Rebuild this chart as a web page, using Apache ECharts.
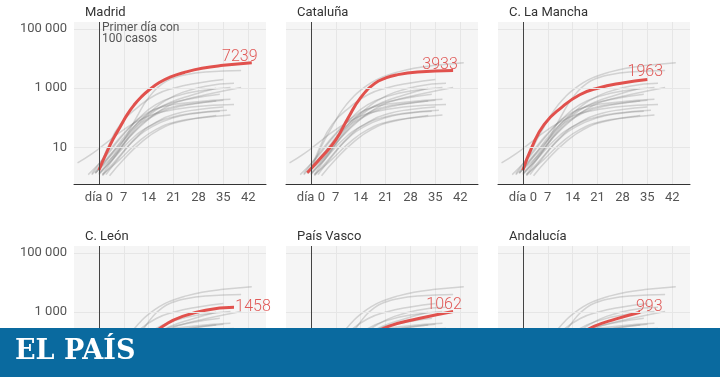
<!DOCTYPE html>
<html>
<head>
<meta charset="utf-8">
<script src="https://cdn.jsdelivr.net/npm/echarts@6/dist/echarts.min.js"></script>
<style>
html,body{margin:0;padding:0;background:#fff}
#chart{width:720px;height:377px}
</style>
</head>
<body>
<div id="chart"></div>
<script>
// días desde el primer día con 100 casos -> fallecidos acumulados
var madrid      = [[0,1.7],[2,6],[4,19],[6,50],[8,130],[10,280],[12,520],[14,850],[17,1550],[20,2350],[24,3400],[29,4700],[35,5900],[43,7239]];
var cataluna    = [[-1,1.4],[3,4.7],[7,18],[10.5,100],[14,480],[18,1450],[21,2200],[24,2800],[30,3500],[40,3933]];
var clm         = [[0,1.7],[2.5,10],[6,60],[11,230],[16,600],[21,1000],[28,1500],[35,1963]];
var cyl         = [[0,1.3],[4,5],[8,25],[11,70],[15,180],[19,400],[23,680],[30,1170],[38,1458]];
var pvasco      = [[-1,1.4],[4,5],[9,25],[14,90],[18,200],[22,340],[30,600],[40,1062]];
var andalucia   = [[-2,1.2],[2,4],[7,18],[11,60],[16,180],[20,330],[26,580],[33,993]];
var valencia    = [[-3,1.2],[2,5],[6,20],[11,90],[16,280],[22,550],[28,800],[37,1050]];
var aragon      = [[-1,1.3],[3,5],[8,30],[13,110],[18,250],[24,400],[34,620]];
var galicia     = [[0,1.2],[5,6],[10,35],[15,110],[20,200],[27,300],[35,390]];
var navarra     = [[-2,1.3],[3,8],[8,40],[13,130],[19,250],[27,340],[37,420]];
var rioja       = [[-6,3],[-2,6],[2,14],[7,40],[12,90],[18,160],[26,230],[38,280]];
var extremadura = [[1,1.2],[5,6],[10,40],[15,120],[20,220],[26,300],[33,370]];
var asturias    = [[2,1.2],[6,5],[11,25],[16,70],[22,140],[28,190],[35,230]];
var cantabria   = [[1,1.1],[5,4],[10,18],[15,50],[21,100],[27,140],[34,165]];
var baleares    = [[0,1.3],[4,4],[9,18],[14,50],[20,100],[27,145],[36,180]];
var canarias    = [[1,1.2],[6,4],[11,15],[16,40],[22,75],[29,100],[37,125]];
var murcia      = [[3,1.1],[7,4],[12,15],[17,40],[23,75],[33,120]];

var curves = [madrid, cataluna, clm, cyl, pvasco, andalucia, valencia, aragon, galicia,
              navarra, rioja, extremadura, asturias, cantabria, baleares, canarias, murcia];
var panelNames = ['Madrid', 'Cataluña', 'C. La Mancha', 'C. León', 'País Vasco', 'Andalucía'];
var yLabels = [10, 1000, 100000];
var xLabelMax = 42;

// posicion de cada panel
var panels = [
  {left: 74,  top: 22,  yl: true,  off: [-12, -6]},
  {left: 286, top: 22,  yl: false, off: [-13, -6]},
  {left: 498, top: 22,  yl: false, off: [-2, -8]},
  {left: 74,  top: 246, yl: true,  off: [19, 0]},
  {left: 286, top: 246, yl: false, off: [-9, -6]},
  {left: 498, top: 246, yl: false, off: [9, -5]}
];

var chart = echarts.init(document.getElementById('chart'));

var grids = [], xAxes = [], yAxes = [], titles = [], series = [];

panels.forEach(function (p, pi) {
  grids.push({left: p.left, top: p.top, width: 192, height: 162, outerBoundsMode: 'none',
    containLabel: false, show: true, backgroundColor: '#f5f5f5', borderWidth: 0});

  titles.push({text: panelNames[pi], left: p.left + 6, top: p.top - 21,
    textStyle: {fontFamily: 'Roboto', fontSize: 13, fontWeight: 'normal', color: '#333'}});

  xAxes.push({type: 'value', gridIndex: pi, min: -7, max: 47, interval: 7,
    axisLine: {show: true, lineStyle: {color: '#333', width: 1}},
    axisTick: {show: false},
    splitLine: {show: true, showMinLine: false, showMaxLine: false, lineStyle: {color: '#e6e6e6', width: 1}},
    axisLabel: {margin: 7, fontFamily: 'Roboto', fontSize: 13, color: '#555',
      formatter: function (v) {
        if (v === 0) return 'día 0';
        if (v > 0 && v <= xLabelMax) return String(v);
        return '';
      }}
  });

  yAxes.push({type: 'log', logBase: 10, gridIndex: pi, min: 0.58, max: 172000,
    axisLine: {show: false}, axisTick: {show: false}, splitLine: {show: false},
    axisLabel: {show: p.yl, margin: 7, fontFamily: 'Roboto', fontSize: 13, color: '#555',
      formatter: function (v) {
        var r = Math.round(v);
        if (yLabels.indexOf(r) < 0) return '';
        return String(r).replace(/\B(?=(\d{3})+(?!\d))/g, ' ');
      }}
  });

  // lineas de referencia y linea del dia 0
  series.push({type: 'line', xAxisIndex: pi, yAxisIndex: pi, data: [[0, 1]], symbol: 'none',
    lineStyle: {opacity: 0}, z: 1, silent: true,
    markLine: {silent: true, symbol: 'none', animation: false, label: {show: false},
      data: yLabels.map(function (v) {
        return {yAxis: v, lineStyle: {color: '#e6e6e6', width: 1, type: 'solid'}};
      }).concat([{xAxis: 0, lineStyle: {color: '#444', width: 1, type: 'solid'}}])
    }
  });

  curves.forEach(function (c, ci) {
    if (ci === pi) return;
    series.push({type: 'line', xAxisIndex: pi, yAxisIndex: pi, data: c,
      smooth: true, showSymbol: false, silent: true, z: 2,
      lineStyle: {color: 'rgba(120,120,120,0.28)', width: 1.5}});
  });

  var red = curves[pi];
  series.push({type: 'line', xAxisIndex: pi, yAxisIndex: pi, data: red,
    smooth: true, showSymbol: false, silent: true, z: 3,
    lineStyle: {color: '#e1514d', width: 3},
    endLabel: {show: true, distance: 0, align: 'center', verticalAlign: 'middle',
      offset: p.off, fontFamily: 'Roboto', fontSize: 16, fontWeight: 300, color: '#e05a58',
      formatter: function () { return String(red[red.length - 1][1]); }}
  });
});

chart.setOption({
  animation: false,
  backgroundColor: '#fff',
  title: titles,
  grid: grids,
  xAxis: xAxes,
  yAxis: yAxes,
  series: series,
  graphic: [
    {type: 'text', left: 102, top: 22, z: 10, silent: true,
      style: {text: 'Primer día con\n100 casos', font: '12px Roboto', fill: '#555', lineHeight: 11}},
    {type: 'rect', left: 0, top: 328, z: 20, silent: true,
      shape: {width: 720, height: 49}, style: {fill: '#0a6a9f'}},
    {type: 'text', left: 15, top: 338, z: 21, silent: true,
      style: {text: 'EL PAÍS', font: 'bold 27px "DejaVu Serif"', fill: '#fff'}}
  ]
});
</script>
</body>
</html>
